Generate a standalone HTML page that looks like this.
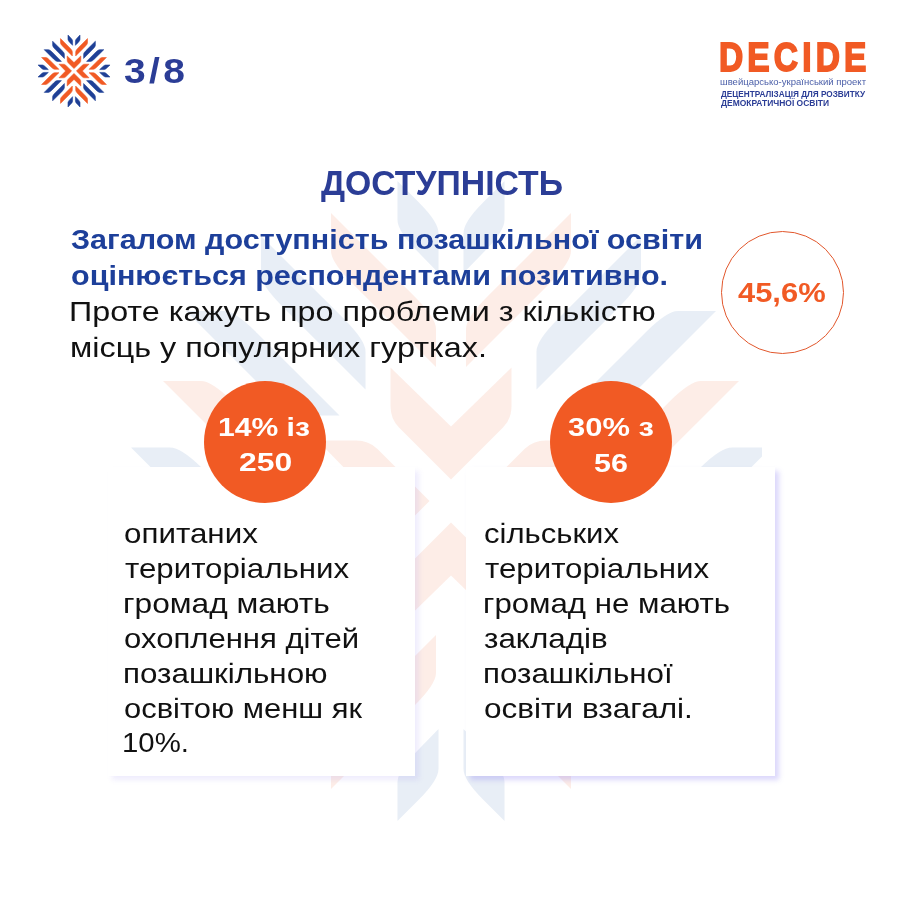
<!DOCTYPE html><html lang="uk"><head><meta charset="utf-8"><title>Доступність</title><style>
html,body{margin:0;padding:0}body{width:900px;height:900px;position:relative;overflow:hidden;background:#fff;font-family:"Liberation Sans",sans-serif}
.t{position:absolute;white-space:nowrap;line-height:1;transform-origin:0 0;margin:0}
.card{position:absolute;background:#fff}
.dot{position:absolute;border-radius:50%}
svg{position:absolute;left:0;top:0}
</style></head><body>
<svg width="900" height="900" viewBox="0 0 900 900"><g transform="translate(451 501) scale(1)"><g transform="rotate(0)"><path d="M-60.5 -133.5L0 -74.5L60.5 -133.5L60.5 -95Q60.5 -82 52 -73.5L0 -21.5L-52 -73.5Q-60.5 -82 -60.5 -95Z" fill="#f15a24" fill-opacity="0.11"/><g transform="scale(1 1)"><path d="M-53.5 -320.0L-32.3 -298.8Q-12.5 -279.0 -12.5 -268.0L-12.5 -228.0L-33.9 -250.0Q-53.5 -270.0 -53.5 -281.0Z" fill="#1955a5" fill-opacity="0.1"/><path d="M-190.0 -265.0L-106.7 -181.7Q-85.5 -160.5 -85.5 -149.5L-85.5 -111.5L-168.8 -194.8Q-190.0 -216.0 -190.0 -227.0Z" fill="#1955a5" fill-opacity="0.1"/><path d="M-120.0 -288.0L-36.2 -204.2Q-15.0 -183.0 -15.0 -172.0L-15.0 -134.0L-98.8 -217.8Q-120.0 -239.0 -120.0 -250.0Z" fill="#f15a24" fill-opacity="0.11"/></g><g transform="scale(-1 1)"><path d="M-53.5 -320.0L-32.3 -298.8Q-12.5 -279.0 -12.5 -268.0L-12.5 -228.0L-33.9 -250.0Q-53.5 -270.0 -53.5 -281.0Z" fill="#1955a5" fill-opacity="0.1"/><path d="M-190.0 -265.0L-106.7 -181.7Q-85.5 -160.5 -85.5 -149.5L-85.5 -111.5L-168.8 -194.8Q-190.0 -216.0 -190.0 -227.0Z" fill="#1955a5" fill-opacity="0.1"/><path d="M-120.0 -288.0L-36.2 -204.2Q-15.0 -183.0 -15.0 -172.0L-15.0 -134.0L-98.8 -217.8Q-120.0 -239.0 -120.0 -250.0Z" fill="#f15a24" fill-opacity="0.11"/></g></g><g transform="rotate(90)"><path d="M-60.5 -133.5L0 -74.5L60.5 -133.5L60.5 -95Q60.5 -82 52 -73.5L0 -21.5L-52 -73.5Q-60.5 -82 -60.5 -95Z" fill="#f15a24" fill-opacity="0.11"/><g transform="scale(1 1)"><path d="M-53.5 -320.0L-32.3 -298.8Q-12.5 -279.0 -12.5 -268.0L-12.5 -228.0L-33.9 -250.0Q-53.5 -270.0 -53.5 -281.0Z" fill="#1955a5" fill-opacity="0.1"/><path d="M-190.0 -265.0L-106.7 -181.7Q-85.5 -160.5 -85.5 -149.5L-85.5 -111.5L-168.8 -194.8Q-190.0 -216.0 -190.0 -227.0Z" fill="#1955a5" fill-opacity="0.1"/><path d="M-120.0 -288.0L-36.2 -204.2Q-15.0 -183.0 -15.0 -172.0L-15.0 -134.0L-98.8 -217.8Q-120.0 -239.0 -120.0 -250.0Z" fill="#f15a24" fill-opacity="0.11"/></g><g transform="scale(-1 1)"><path d="M-53.5 -320.0L-32.3 -298.8Q-12.5 -279.0 -12.5 -268.0L-12.5 -228.0L-33.9 -250.0Q-53.5 -270.0 -53.5 -281.0Z" fill="#1955a5" fill-opacity="0.1"/><path d="M-190.0 -265.0L-106.7 -181.7Q-85.5 -160.5 -85.5 -149.5L-85.5 -111.5L-168.8 -194.8Q-190.0 -216.0 -190.0 -227.0Z" fill="#1955a5" fill-opacity="0.1"/><path d="M-120.0 -288.0L-36.2 -204.2Q-15.0 -183.0 -15.0 -172.0L-15.0 -134.0L-98.8 -217.8Q-120.0 -239.0 -120.0 -250.0Z" fill="#f15a24" fill-opacity="0.11"/></g></g><g transform="rotate(180)"><path d="M-60.5 -133.5L0 -74.5L60.5 -133.5L60.5 -95Q60.5 -82 52 -73.5L0 -21.5L-52 -73.5Q-60.5 -82 -60.5 -95Z" fill="#f15a24" fill-opacity="0.11"/><g transform="scale(1 1)"><path d="M-53.5 -320.0L-32.3 -298.8Q-12.5 -279.0 -12.5 -268.0L-12.5 -228.0L-33.9 -250.0Q-53.5 -270.0 -53.5 -281.0Z" fill="#1955a5" fill-opacity="0.1"/><path d="M-190.0 -265.0L-106.7 -181.7Q-85.5 -160.5 -85.5 -149.5L-85.5 -111.5L-168.8 -194.8Q-190.0 -216.0 -190.0 -227.0Z" fill="#1955a5" fill-opacity="0.1"/><path d="M-120.0 -288.0L-36.2 -204.2Q-15.0 -183.0 -15.0 -172.0L-15.0 -134.0L-98.8 -217.8Q-120.0 -239.0 -120.0 -250.0Z" fill="#f15a24" fill-opacity="0.11"/></g><g transform="scale(-1 1)"><path d="M-53.5 -320.0L-32.3 -298.8Q-12.5 -279.0 -12.5 -268.0L-12.5 -228.0L-33.9 -250.0Q-53.5 -270.0 -53.5 -281.0Z" fill="#1955a5" fill-opacity="0.1"/><path d="M-190.0 -265.0L-106.7 -181.7Q-85.5 -160.5 -85.5 -149.5L-85.5 -111.5L-168.8 -194.8Q-190.0 -216.0 -190.0 -227.0Z" fill="#1955a5" fill-opacity="0.1"/><path d="M-120.0 -288.0L-36.2 -204.2Q-15.0 -183.0 -15.0 -172.0L-15.0 -134.0L-98.8 -217.8Q-120.0 -239.0 -120.0 -250.0Z" fill="#f15a24" fill-opacity="0.11"/></g></g><g transform="rotate(270)"><path d="M-60.5 -133.5L0 -74.5L60.5 -133.5L60.5 -95Q60.5 -82 52 -73.5L0 -21.5L-52 -73.5Q-60.5 -82 -60.5 -95Z" fill="#f15a24" fill-opacity="0.11"/><g transform="scale(1 1)"><path d="M-53.5 -320.0L-32.3 -298.8Q-12.5 -279.0 -12.5 -268.0L-12.5 -228.0L-33.9 -250.0Q-53.5 -270.0 -53.5 -281.0Z" fill="#1955a5" fill-opacity="0.1"/><path d="M-190.0 -265.0L-106.7 -181.7Q-85.5 -160.5 -85.5 -149.5L-85.5 -111.5L-168.8 -194.8Q-190.0 -216.0 -190.0 -227.0Z" fill="#1955a5" fill-opacity="0.1"/><path d="M-120.0 -288.0L-36.2 -204.2Q-15.0 -183.0 -15.0 -172.0L-15.0 -134.0L-98.8 -217.8Q-120.0 -239.0 -120.0 -250.0Z" fill="#f15a24" fill-opacity="0.11"/></g><g transform="scale(-1 1)"><path d="M-53.5 -320.0L-32.3 -298.8Q-12.5 -279.0 -12.5 -268.0L-12.5 -228.0L-33.9 -250.0Q-53.5 -270.0 -53.5 -281.0Z" fill="#1955a5" fill-opacity="0.1"/><path d="M-190.0 -265.0L-106.7 -181.7Q-85.5 -160.5 -85.5 -149.5L-85.5 -111.5L-168.8 -194.8Q-190.0 -216.0 -190.0 -227.0Z" fill="#1955a5" fill-opacity="0.1"/><path d="M-120.0 -288.0L-36.2 -204.2Q-15.0 -183.0 -15.0 -172.0L-15.0 -134.0L-98.8 -217.8Q-120.0 -239.0 -120.0 -250.0Z" fill="#f15a24" fill-opacity="0.11"/></g></g></g></svg>
<div class="card" style="left:108px;top:467px;width:307px;height:309px;box-shadow:4px 4px 5px rgba(130,115,240,0.13)"></div>
<div class="card" style="left:465.5px;top:467px;width:309.5px;height:309px;box-shadow:4px 4px 5px rgba(130,115,240,0.28)"></div>
<div class="card" style="left:762px;top:440px;width:12px;height:26px"></div>
<div class="dot" style="left:203.89999999999998px;top:380.7px;width:122.6px;height:122.6px;background:#f15a24;"></div>
<div class="dot" style="left:549.5px;top:380.7px;width:122.6px;height:122.6px;background:#f15a24;"></div>
<div class="dot" style="left:720.5px;top:230.5px;width:123.0px;height:123.0px;background:#fff;box-sizing:border-box;border:1px solid #e2572c;"></div>
<svg width="900" height="150" viewBox="0 0 900 150"><g transform="translate(74 71) scale(0.1125)"><g transform="rotate(0)"><path d="M-60.5 -133.5L0 -74.5L60.5 -133.5L60.5 -95Q60.5 -82 52 -73.5L0 -21.5L-52 -73.5Q-60.5 -82 -60.5 -95Z" fill="#f15a24" fill-opacity="1" stroke="#f15a24" stroke-width="5" stroke-linejoin="round"/><g transform="scale(1 1)"><path d="M-53.5 -320.0L-32.3 -298.8Q-12.5 -279.0 -12.5 -268.0L-12.5 -228.0L-33.9 -250.0Q-53.5 -270.0 -53.5 -281.0Z" fill="#1f4096" fill-opacity="1" stroke="#1f4096" stroke-width="5" stroke-linejoin="round"/><path d="M-190.0 -265.0L-106.7 -181.7Q-85.5 -160.5 -85.5 -149.5L-85.5 -111.5L-168.8 -194.8Q-190.0 -216.0 -190.0 -227.0Z" fill="#1f4096" fill-opacity="1" stroke="#1f4096" stroke-width="5" stroke-linejoin="round"/><path d="M-120.0 -288.0L-36.2 -204.2Q-15.0 -183.0 -15.0 -172.0L-15.0 -134.0L-98.8 -217.8Q-120.0 -239.0 -120.0 -250.0Z" fill="#f15a24" fill-opacity="1" stroke="#f15a24" stroke-width="5" stroke-linejoin="round"/></g><g transform="scale(-1 1)"><path d="M-53.5 -320.0L-32.3 -298.8Q-12.5 -279.0 -12.5 -268.0L-12.5 -228.0L-33.9 -250.0Q-53.5 -270.0 -53.5 -281.0Z" fill="#1f4096" fill-opacity="1" stroke="#1f4096" stroke-width="5" stroke-linejoin="round"/><path d="M-190.0 -265.0L-106.7 -181.7Q-85.5 -160.5 -85.5 -149.5L-85.5 -111.5L-168.8 -194.8Q-190.0 -216.0 -190.0 -227.0Z" fill="#1f4096" fill-opacity="1" stroke="#1f4096" stroke-width="5" stroke-linejoin="round"/><path d="M-120.0 -288.0L-36.2 -204.2Q-15.0 -183.0 -15.0 -172.0L-15.0 -134.0L-98.8 -217.8Q-120.0 -239.0 -120.0 -250.0Z" fill="#f15a24" fill-opacity="1" stroke="#f15a24" stroke-width="5" stroke-linejoin="round"/></g></g><g transform="rotate(90)"><path d="M-60.5 -133.5L0 -74.5L60.5 -133.5L60.5 -95Q60.5 -82 52 -73.5L0 -21.5L-52 -73.5Q-60.5 -82 -60.5 -95Z" fill="#f15a24" fill-opacity="1" stroke="#f15a24" stroke-width="5" stroke-linejoin="round"/><g transform="scale(1 1)"><path d="M-53.5 -320.0L-32.3 -298.8Q-12.5 -279.0 -12.5 -268.0L-12.5 -228.0L-33.9 -250.0Q-53.5 -270.0 -53.5 -281.0Z" fill="#1f4096" fill-opacity="1" stroke="#1f4096" stroke-width="5" stroke-linejoin="round"/><path d="M-190.0 -265.0L-106.7 -181.7Q-85.5 -160.5 -85.5 -149.5L-85.5 -111.5L-168.8 -194.8Q-190.0 -216.0 -190.0 -227.0Z" fill="#1f4096" fill-opacity="1" stroke="#1f4096" stroke-width="5" stroke-linejoin="round"/><path d="M-120.0 -288.0L-36.2 -204.2Q-15.0 -183.0 -15.0 -172.0L-15.0 -134.0L-98.8 -217.8Q-120.0 -239.0 -120.0 -250.0Z" fill="#f15a24" fill-opacity="1" stroke="#f15a24" stroke-width="5" stroke-linejoin="round"/></g><g transform="scale(-1 1)"><path d="M-53.5 -320.0L-32.3 -298.8Q-12.5 -279.0 -12.5 -268.0L-12.5 -228.0L-33.9 -250.0Q-53.5 -270.0 -53.5 -281.0Z" fill="#1f4096" fill-opacity="1" stroke="#1f4096" stroke-width="5" stroke-linejoin="round"/><path d="M-190.0 -265.0L-106.7 -181.7Q-85.5 -160.5 -85.5 -149.5L-85.5 -111.5L-168.8 -194.8Q-190.0 -216.0 -190.0 -227.0Z" fill="#1f4096" fill-opacity="1" stroke="#1f4096" stroke-width="5" stroke-linejoin="round"/><path d="M-120.0 -288.0L-36.2 -204.2Q-15.0 -183.0 -15.0 -172.0L-15.0 -134.0L-98.8 -217.8Q-120.0 -239.0 -120.0 -250.0Z" fill="#f15a24" fill-opacity="1" stroke="#f15a24" stroke-width="5" stroke-linejoin="round"/></g></g><g transform="rotate(180)"><path d="M-60.5 -133.5L0 -74.5L60.5 -133.5L60.5 -95Q60.5 -82 52 -73.5L0 -21.5L-52 -73.5Q-60.5 -82 -60.5 -95Z" fill="#f15a24" fill-opacity="1" stroke="#f15a24" stroke-width="5" stroke-linejoin="round"/><g transform="scale(1 1)"><path d="M-53.5 -320.0L-32.3 -298.8Q-12.5 -279.0 -12.5 -268.0L-12.5 -228.0L-33.9 -250.0Q-53.5 -270.0 -53.5 -281.0Z" fill="#1f4096" fill-opacity="1" stroke="#1f4096" stroke-width="5" stroke-linejoin="round"/><path d="M-190.0 -265.0L-106.7 -181.7Q-85.5 -160.5 -85.5 -149.5L-85.5 -111.5L-168.8 -194.8Q-190.0 -216.0 -190.0 -227.0Z" fill="#1f4096" fill-opacity="1" stroke="#1f4096" stroke-width="5" stroke-linejoin="round"/><path d="M-120.0 -288.0L-36.2 -204.2Q-15.0 -183.0 -15.0 -172.0L-15.0 -134.0L-98.8 -217.8Q-120.0 -239.0 -120.0 -250.0Z" fill="#f15a24" fill-opacity="1" stroke="#f15a24" stroke-width="5" stroke-linejoin="round"/></g><g transform="scale(-1 1)"><path d="M-53.5 -320.0L-32.3 -298.8Q-12.5 -279.0 -12.5 -268.0L-12.5 -228.0L-33.9 -250.0Q-53.5 -270.0 -53.5 -281.0Z" fill="#1f4096" fill-opacity="1" stroke="#1f4096" stroke-width="5" stroke-linejoin="round"/><path d="M-190.0 -265.0L-106.7 -181.7Q-85.5 -160.5 -85.5 -149.5L-85.5 -111.5L-168.8 -194.8Q-190.0 -216.0 -190.0 -227.0Z" fill="#1f4096" fill-opacity="1" stroke="#1f4096" stroke-width="5" stroke-linejoin="round"/><path d="M-120.0 -288.0L-36.2 -204.2Q-15.0 -183.0 -15.0 -172.0L-15.0 -134.0L-98.8 -217.8Q-120.0 -239.0 -120.0 -250.0Z" fill="#f15a24" fill-opacity="1" stroke="#f15a24" stroke-width="5" stroke-linejoin="round"/></g></g><g transform="rotate(270)"><path d="M-60.5 -133.5L0 -74.5L60.5 -133.5L60.5 -95Q60.5 -82 52 -73.5L0 -21.5L-52 -73.5Q-60.5 -82 -60.5 -95Z" fill="#f15a24" fill-opacity="1" stroke="#f15a24" stroke-width="5" stroke-linejoin="round"/><g transform="scale(1 1)"><path d="M-53.5 -320.0L-32.3 -298.8Q-12.5 -279.0 -12.5 -268.0L-12.5 -228.0L-33.9 -250.0Q-53.5 -270.0 -53.5 -281.0Z" fill="#1f4096" fill-opacity="1" stroke="#1f4096" stroke-width="5" stroke-linejoin="round"/><path d="M-190.0 -265.0L-106.7 -181.7Q-85.5 -160.5 -85.5 -149.5L-85.5 -111.5L-168.8 -194.8Q-190.0 -216.0 -190.0 -227.0Z" fill="#1f4096" fill-opacity="1" stroke="#1f4096" stroke-width="5" stroke-linejoin="round"/><path d="M-120.0 -288.0L-36.2 -204.2Q-15.0 -183.0 -15.0 -172.0L-15.0 -134.0L-98.8 -217.8Q-120.0 -239.0 -120.0 -250.0Z" fill="#f15a24" fill-opacity="1" stroke="#f15a24" stroke-width="5" stroke-linejoin="round"/></g><g transform="scale(-1 1)"><path d="M-53.5 -320.0L-32.3 -298.8Q-12.5 -279.0 -12.5 -268.0L-12.5 -228.0L-33.9 -250.0Q-53.5 -270.0 -53.5 -281.0Z" fill="#1f4096" fill-opacity="1" stroke="#1f4096" stroke-width="5" stroke-linejoin="round"/><path d="M-190.0 -265.0L-106.7 -181.7Q-85.5 -160.5 -85.5 -149.5L-85.5 -111.5L-168.8 -194.8Q-190.0 -216.0 -190.0 -227.0Z" fill="#1f4096" fill-opacity="1" stroke="#1f4096" stroke-width="5" stroke-linejoin="round"/><path d="M-120.0 -288.0L-36.2 -204.2Q-15.0 -183.0 -15.0 -172.0L-15.0 -134.0L-98.8 -217.8Q-120.0 -239.0 -120.0 -250.0Z" fill="#f15a24" fill-opacity="1" stroke="#f15a24" stroke-width="5" stroke-linejoin="round"/></g></g></g></svg>
<div class="t" id="t0" style="left:123.91px;top:53.50px;font-size:34.3px;transform:scaleX(1.1372);letter-spacing:3px;font-weight:700;color:#2b3d96">3/8</div>
<div class="t" id="t1" style="left:718.90px;top:36.70px;font-size:40.5px;transform:scaleX(0.8281);letter-spacing:5px;-webkit-text-stroke:1.8px #f15a24;paint-order:stroke fill;font-weight:700;color:#f15a24">DECIDE</div>
<div class="t" id="t2" style="left:719.99px;top:77.80px;font-size:8.6px;transform:scaleX(1.1081);font-weight:400;color:#4a5ea8">швейцарсько-український проект</div>
<div class="t" id="t3" style="left:721.00px;top:90.00px;font-size:8.7px;transform:scaleX(0.9454);font-weight:700;color:#2b3d96">ДЕЦЕНТРАЛІЗАЦІЯ ДЛЯ РОЗВИТКУ</div>
<div class="t" id="t4" style="left:721.00px;top:99.10px;font-size:8.7px;transform:scaleX(0.9737);font-weight:700;color:#2b3d96">ДЕМОКРАТИЧНОЇ ОСВІТИ</div>
<div class="t" id="t5" style="left:320.80px;top:166.00px;font-size:35.5px;transform:scaleX(0.9513);font-weight:700;color:#2b3d96">ДОСТУПНІСТЬ</div>
<div class="t" id="t6" style="left:70.79px;top:225.70px;font-size:27.3px;transform:scaleX(1.1183);font-weight:700;color:#1d3f9a">Загалом доступність позашкільної освіти</div>
<div class="t" id="t7" style="left:70.79px;top:261.50px;font-size:27.3px;transform:scaleX(1.1180);font-weight:700;color:#1d3f9a">оцінюється респондентами позитивно.</div>
<div class="t" id="t8" style="left:68.77px;top:298.00px;font-size:27.3px;transform:scaleX(1.1820);font-weight:400;color:#111">Проте кажуть про проблеми з кількістю</div>
<div class="t" id="t9" style="left:69.77px;top:334.30px;font-size:27.3px;transform:scaleX(1.1857);font-weight:400;color:#111">місць у популярних гуртках.</div>
<div class="t" id="t10" style="left:217.94px;top:413.80px;font-size:26.5px;transform:scaleX(1.1355);font-weight:700;color:#fff">14% із</div>
<div class="t" id="t11" style="left:238.95px;top:449.30px;font-size:26.5px;transform:scaleX(1.2016);font-weight:700;color:#fff">250</div>
<div class="t" id="t12" style="left:568.17px;top:414.30px;font-size:26.5px;transform:scaleX(1.1668);font-weight:700;color:#fff">30% з</div>
<div class="t" id="t13" style="left:593.93px;top:449.50px;font-size:26.5px;transform:scaleX(1.1508);font-weight:700;color:#fff">56</div>
<div class="t" id="t14" style="left:738.20px;top:279.20px;font-size:27.5px;transform:scaleX(1.1234);font-weight:700;color:#f15a24">45,6%</div>
<div class="t" id="t15" style="left:124.19px;top:518.80px;font-size:28.5px;transform:scaleX(1.0995);font-weight:400;color:#111">опитаних</div>
<div class="t" id="t16" style="left:125.20px;top:553.70px;font-size:28.5px;transform:scaleX(1.0961);font-weight:400;color:#111">територіальних</div>
<div class="t" id="t17" style="left:123.18px;top:588.70px;font-size:28.5px;transform:scaleX(1.1110);font-weight:400;color:#111">громад мають</div>
<div class="t" id="t18" style="left:124.19px;top:623.70px;font-size:28.5px;transform:scaleX(1.0905);font-weight:400;color:#111">охоплення дітей</div>
<div class="t" id="t19" style="left:123.17px;top:659.00px;font-size:28.5px;transform:scaleX(1.1003);font-weight:400;color:#111">позашкільною</div>
<div class="t" id="t20" style="left:124.20px;top:694.00px;font-size:28.5px;transform:scaleX(1.0852);font-weight:400;color:#111">освітою менш як</div>
<div class="t" id="t21" style="left:122.07px;top:728.30px;font-size:28.5px;transform:scaleX(1.0301);font-weight:400;color:#111">10%.</div>
<div class="t" id="t22" style="left:484.19px;top:518.80px;font-size:28.5px;transform:scaleX(1.0907);font-weight:400;color:#111">сільських</div>
<div class="t" id="t23" style="left:485.20px;top:553.70px;font-size:28.5px;transform:scaleX(1.0961);font-weight:400;color:#111">територіальних</div>
<div class="t" id="t24" style="left:483.18px;top:588.70px;font-size:28.5px;transform:scaleX(1.0945);font-weight:400;color:#111">громад не мають</div>
<div class="t" id="t25" style="left:484.19px;top:623.70px;font-size:28.5px;transform:scaleX(1.1011);font-weight:400;color:#111">закладів</div>
<div class="t" id="t26" style="left:483.18px;top:659.00px;font-size:28.5px;transform:scaleX(1.0991);font-weight:400;color:#111">позашкільної</div>
<div class="t" id="t27" style="left:484.19px;top:694.00px;font-size:28.5px;transform:scaleX(1.1069);font-weight:400;color:#111">освіти взагалі.</div>
</body></html>
